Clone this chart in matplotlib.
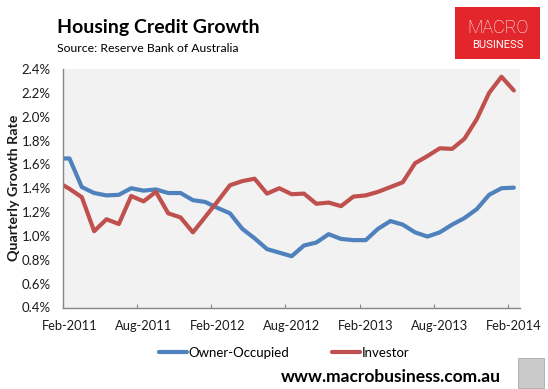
import matplotlib
matplotlib.use("Agg")
import matplotlib.pyplot as plt
from matplotlib.patches import Rectangle

# ---- data (monthly, Jan-2011 .. Feb-2014; Jan-2011 lies left of the axis and is clipped) ----
months = ["Jan-2011", "Feb-2011", "Mar-2011", "Apr-2011", "May-2011", "Jun-2011", "Jul-2011",
          "Aug-2011", "Sep-2011", "Oct-2011", "Nov-2011", "Dec-2011", "Jan-2012",
          "Feb-2012", "Mar-2012", "Apr-2012", "May-2012", "Jun-2012", "Jul-2012",
          "Aug-2012", "Sep-2012", "Oct-2012", "Nov-2012", "Dec-2012", "Jan-2013",
          "Feb-2013", "Mar-2013", "Apr-2013", "May-2013", "Jun-2013", "Jul-2013",
          "Aug-2013", "Sep-2013", "Oct-2013", "Nov-2013", "Dec-2013", "Jan-2014",
          "Feb-2014"]
owner_occupied = [1.65, 1.65, 1.41, 1.36, 1.34, 1.345, 1.40, 1.38, 1.39, 1.36, 1.36, 1.30, 1.285,
                  1.235, 1.19, 1.06, 0.98, 0.89, 0.86, 0.83, 0.92, 0.945, 1.015, 0.975, 0.965,
                  0.965, 1.06, 1.125, 1.095, 1.03, 0.995, 1.03, 1.095, 1.15, 1.225, 1.345,
                  1.40, 1.405]
investor = [1.455, 1.395, 1.325, 1.04, 1.14, 1.10, 1.335, 1.29, 1.37, 1.19, 1.155, 1.03, 1.16,
            1.29, 1.425, 1.46, 1.48, 1.355, 1.40, 1.35, 1.355, 1.27, 1.28, 1.25, 1.33,
            1.34, 1.37, 1.41, 1.45, 1.61, 1.67, 1.735, 1.73, 1.815, 1.98, 2.20,
            2.335, 2.22]
label_months = ["Feb-2011", "Aug-2011", "Feb-2012", "Aug-2012", "Feb-2013", "Aug-2013", "Feb-2014"]
y_ticks = [0.4, 0.6, 0.8, 1.0, 1.2, 1.4, 1.6, 1.8, 2.0, 2.2, 2.4]

BLUE = "#4F81BD"
RED = "#C0504D"
TXT = "#1a1a1a"

fig = plt.figure(figsize=(5.48, 3.89), dpi=100)
fig.patch.set_facecolor("white")
ax = fig.add_axes([63.3 / 548, 1 - 307.5 / 389, (520 - 63.3) / 548, (307.5 - 69) / 389])
ax.set_facecolor("#F2F2F2")

# category positions: Feb-2011 centred in the first category
pos = [i - 0.5 for i in range(len(months))]
ax.plot(pos, owner_occupied, color=BLUE, lw=3.0, solid_joinstyle="round",
        solid_capstyle="round", label="Owner-Occupied")
ax.plot(pos, investor, color=RED, lw=3.0, solid_joinstyle="round",
        solid_capstyle="round", label="Investor")

ax.set_xlim(0, 37)
ax.set_ylim(0.4, 2.4)

# x labels at category centres, tick marks at category boundaries
label_pos = [months.index(m) - 0.5 for m in label_months]
ax.set_xticks(label_pos)
ax.set_xticklabels(label_months, fontsize=9.3, color=TXT, family="Lato")
ax.tick_params(axis="x", which="major", length=0, pad=9)
ax.set_xticks([p - 0.5 for p in label_pos], minor=True)
ax.tick_params(axis="x", which="minor", length=3, direction="in", color="#868686", width=0.8)

ax.set_yticks(y_ticks)
ax.set_yticklabels([f"{v:.1f}%" for v in y_ticks], fontsize=9.5, color=TXT, family="Lato")
ax.tick_params(axis="y", length=0, pad=9)

for s in ["top", "right"]:
    ax.spines[s].set_visible(False)
for s in ["left", "bottom"]:
    ax.spines[s].set_color("#868686")
    ax.spines[s].set_linewidth(1.0)

ax.set_ylabel("Quarterly Growth Rate", fontsize=10.3, fontweight="bold", color=TXT,
              family="Lato")
ax.yaxis.set_label_coords(-0.095, 0.5)

# title and source
fig.text(56.7 / 548, 1 - 33.3 / 389, "Housing Credit Growth", fontsize=14,
         fontweight="bold", family="Lato", color="black", va="baseline", ha="left")
fig.text(56.7 / 548, 1 - 51.7 / 389, "Source: Reserve Bank of Australia", fontsize=8.8,
         family="Lato", color="black", va="baseline", ha="left")

# legend
fig.legend(loc="center", bbox_to_anchor=(284 / 548, 1 - 352.7 / 389), ncol=2, frameon=False,
           prop={"family": "Lato", "size": 9.5}, handlelength=2.1, handletextpad=0.1,
           columnspacing=3.3)

# website
fig.text(391 / 548, 1 - 377 / 389, "www.macrobusiness.com.au", fontsize=12.5, fontweight="bold",
         family="Lato", color="black", ha="center", va="center")

# MacroBusiness logo box
fig.patches.append(Rectangle((455 / 548, 1 - 59 / 389), 85 / 548, 52 / 389,
                             transform=fig.transFigure, facecolor="#E3262B",
                             edgecolor="none", zorder=1))
fig.text(497.5 / 548, 1 - 28.3 / 389, "MACRO", fontsize=13, family="Roboto",
         fontweight="light", color="white", ha="center", va="center", zorder=2)
fig.text(497.5 / 548, 1 - 45.5 / 389, "BUSINESS", fontsize=8, family="Roboto",
         color="white", ha="center", va="center", zorder=2)

# small wolf-picture placeholder
fig.patches.append(Rectangle((518 / 548, 1 - 388 / 389), 26 / 548, 30 / 389,
                             transform=fig.transFigure, facecolor="#C9C9C9",
                             edgecolor="#AAAAAA", lw=0.6, zorder=1))

fig.savefig("out.png", dpi=100)
